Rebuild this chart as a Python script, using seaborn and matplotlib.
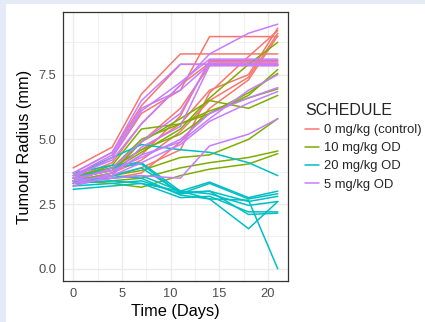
############################ Importing Packages ############################
import pandas as pd
import seaborn as sns
import matplotlib.pyplot as plt
from matplotlib.patches import Rectangle

############################ Data ############################

# Measurement days
days = [0, 4, 7, 11, 14, 18, 21]

# Schedule names (legend order)
schedules = ["0 mg/kg (control)", "10 mg/kg OD", "20 mg/kg OD", "5 mg/kg OD"]

# Tumour radius per animal (mm), one row per animal
control = [
    [3.9, 4.7, 6.75, 8.3, 8.3, 8.3, 8.3],
    [3.7, 4.5, 6.3, 7.9, 7.9, 7.9, 7.9],
    [3.6, 4.3, 6.0, 6.9, 8.97, 8.97, 8.97],
    [3.5, 4.1, 5.6, 7.1, 7.95, 7.95, 7.95],
    [3.4, 3.9, 4.6, 5.6, 6.9, 7.5, 9.3],
    [3.3, 3.7, 4.2, 5.3, 6.5, 7.4, 9.1],
    [3.2, 3.6, 3.9, 4.6, 6.8, 8.2, 9.2],
    [3.5, 3.8, 4.9, 6.2, 7.85, 7.85, 7.85],
    [3.3, 3.5, 3.7, 4.9, 6.2, 7.3, 9.0],
    [3.4, 3.7, 4.4, 5.9, 8.05, 8.05, 8.05],
]
od_10 = [
    [3.5, 3.8, 4.5, 5.4, 6.6, 7.9, 8.75],
    [3.4, 3.9, 5.0, 5.6, 6.0, 6.7, 7.7],
    [3.6, 3.9, 4.6, 5.2, 6.0, 6.8, 7.55],
    [3.5, 4.0, 5.4, 5.6, 6.1, 6.6, 6.95],
    [3.4, 3.7, 4.9, 5.8, 6.5, 6.2, 6.7],
    [3.3, 3.6, 3.8, 4.3, 4.4, 5.0, 5.8],
    [3.3, 3.4, 3.5, 3.9, 4.1, 4.3, 4.55],
    [3.4, 3.3, 3.15, 3.6, 3.85, 4.05, 4.45],
]
od_20 = [
    [3.6, 4.3, 4.8, 4.6, 4.5, 4.1, 3.6],
    [3.7, 4.0, 4.1, 3.0, 3.35, 2.75, 3.0],
    [3.5, 3.9, 4.05, 2.9, 3.3, 2.7, 2.9],
    [3.4, 3.6, 3.5, 2.85, 2.7, 2.65, 0.0],
    [3.3, 3.4, 3.3, 3.0, 2.7, 1.55, 2.6],
    [3.2, 3.3, 3.4, 2.9, 3.0, 2.1, 2.15],
    [3.07, 3.2, 3.3, 2.75, 2.8, 2.2, 2.2],
    [3.4, 3.5, 3.6, 3.0, 2.9, 2.45, 2.6],
    [3.3, 3.6, 3.9, 2.95, 3.0, 2.6, 2.8],
]
od_5 = [
    [3.6, 4.2, 5.6, 7.1, 8.3, 9.1, 9.45],
    [3.7, 4.5, 6.5, 7.9, 7.9, 7.9, 7.9],
    [3.5, 4.3, 6.1, 7.2, 8.1, 8.1, 8.1],
    [3.6, 4.4, 6.2, 6.9, 7.9, 7.9, 7.9],
    [3.4, 3.9, 4.9, 6.0, 8.0, 8.0, 8.0],
    [3.3, 3.7, 4.4, 4.9, 5.8, 6.9, 7.5],
    [3.4, 3.6, 4.1, 4.8, 5.7, 6.4, 6.85],
    [3.3, 3.5, 3.6, 3.5, 4.75, 5.2, 5.8],
    [3.5, 3.8, 4.3, 5.0, 6.0, 6.6, 7.0],
    [3.2, 3.6, 4.7, 5.5, 7.85, 7.85, 7.85],
]

# ggplot default hue colours
colors = ["#F8766D", "#7CAE00", "#00BFC4", "#C77CFF"]

############################ Long format ############################

rows = []
animal = 0
for name, group in zip(schedules, [control, od_10, od_20, od_5]):
    for values in group:
        animal += 1
        for d, v in zip(days, values):
            rows.append({"ID": animal, "Time": d, "Radius": v, "SCHEDULE": name})
df = pd.DataFrame(rows)

############################ Plot ############################

sns.set_style("white")
plt.rcParams["font.family"] = ["Liberation Sans", "DejaVu Sans"]

fig = plt.figure(figsize=(4.25, 3.22), dpi=100)
fig.patch.set_facecolor("#E4EAF6")
# white card of the screenshot
fig.patches.append(Rectangle((6 / 425, -0.05), 1.1, 318 / 322 + 0.05, transform=fig.transFigure,
                             facecolor="white", edgecolor="none", zorder=-1))

ax = fig.add_axes([63 / 425, 41 / 322, 225 / 425, 269 / 322])

sns.lineplot(data=df, x="Time", y="Radius", hue="SCHEDULE", units="ID", estimator=None,
             hue_order=schedules, palette=colors, linewidth=1.1, ax=ax)

ax.set_xlim(-1.05, 22.05)
ax.set_ylim(-0.47, 9.92)
ax.set_xticks([0, 5, 10, 15, 20])
ax.set_yticks([0, 2.5, 5, 7.5])
ax.set_yticklabels(["0.0", "2.5", "5.0", "7.5"])
ax.set_xticks([2.5, 7.5, 12.5, 17.5], minor=True)
ax.set_yticks([1.25, 3.75, 6.25, 8.75], minor=True)

ax.grid(True, which="major", color="#EBEBEB", linewidth=1.0)
ax.grid(True, which="minor", color="#EBEBEB", linewidth=0.5)
ax.set_axisbelow(True)
for s in ax.spines.values():
    s.set_color("#333333")
    s.set_linewidth(0.9)

ax.tick_params(which="major", length=3, width=0.8, color="#333333",
               labelsize=9.3, labelcolor="#4D4D4D", pad=2)
ax.tick_params(which="minor", length=0)

ax.set_xlabel("Time (Days)", fontsize=11.8, color="black", labelpad=3)
ax.set_ylabel("Tumour Radius (mm)", fontsize=11.8, color="black", labelpad=4)

leg = ax.legend(title="SCHEDULE", bbox_to_anchor=(305 / 425, 1 - 103 / 322),
                loc="upper left", bbox_transform=fig.transFigure, frameon=False,
                fontsize=9.4, title_fontsize=11.5, alignment="left",
                handlelength=1.1, handletextpad=0.35, labelspacing=0.46,
                borderaxespad=0, borderpad=0)

fig.savefig("out.png", dpi=100, facecolor=fig.get_facecolor())
